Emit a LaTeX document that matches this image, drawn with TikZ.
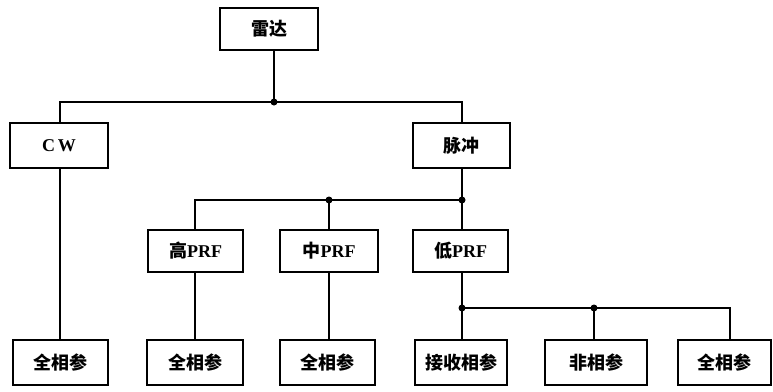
\documentclass[tikz,border=0pt]{standalone}
\usepackage{fontspec}
\setmainfont{Liberation Serif}
\newfontfamily\cjk{Noto Sans CJK SC}
\newcommand{\zh}[1]{{\cjk\bfseries #1}}
\tikzset{
  box/.style={draw, line width=2.2pt, rectangle, inner sep=0pt, minimum height=43pt,
    font=\fontsize{18}{21}\selectfont\bfseries},
  conn/.style={line width=2.4pt},
  jdot/.style={fill, circle, inner sep=0pt, minimum size=7pt}
}
\begin{document}
\begin{tikzpicture}[x=1pt,y=-1pt]
\useasboundingbox (0,0) rectangle (773,391);
% nodes
\node[box, minimum width=98pt, minimum height=42pt] (leida) at (269,29) {\zh{雷达}};
\node[box, minimum width=98pt, minimum height=45pt] (cw) at (59,145.5) {C\,W};
\node[box, minimum width=97pt, minimum height=45pt] (mc) at (461.5,145.5) {\zh{脉冲}};
\node[box, minimum width=95pt, minimum height=42pt] (gao) at (195.5,251) {\zh{高}PRF};
\node[box, minimum width=98pt, minimum height=42pt] (zhong) at (329,251) {\zh{中}PRF};
\node[box, minimum width=95pt, minimum height=42pt] (di) at (460.5,251) {\zh{低}PRF};
\node[box, minimum width=95pt, minimum height=45pt] (b1) at (60.5,362.5) {\zh{全相参}};
\node[box, minimum width=96pt, minimum height=45pt] (b2) at (195,362.5) {\zh{全相参}};
\node[box, minimum width=95pt, minimum height=45pt] (b3) at (327.5,362.5) {\zh{全相参}};
\node[box, minimum width=92pt, minimum height=45pt] (b4) at (461,362.5) {\zh{接收相参}};
\node[box, minimum width=102pt, minimum height=45pt] (b5) at (596,362.5) {\zh{非相参}};
\node[box, minimum width=93pt, minimum height=45pt] (b6) at (724.5,362.5) {\zh{全相参}};
% junctions
\coordinate (j1) at (274,102);
\coordinate (mctop) at (462,102);
\coordinate (j2) at (462,200);
\coordinate (j2m) at (329,200);
\coordinate (j3) at (462,308);
\coordinate (j3m) at (594,308);
\coordinate (j3r) at (730,308);
\coordinate (cwtop) at (60,102);
\coordinate (gtop) at (195,200);
% level 1
\draw[conn] (leida.south -| j1) -- (j1);
\draw[conn] (cw.north -| cwtop) -- (cwtop) -- (j1) -- (mctop) -- (mc.north -| mctop);
% level 2
\draw[conn] (mc.south -| j2) -- (j2);
\draw[conn] (gao.north -| gtop) -- (gtop) -- (j2m) -- (j2);
\draw[conn] (j2m) -- (zhong.north -| j2m);
\draw[conn] (j2) -- (di.north -| j2);
% level 3
\draw[conn] (cw.south -| cwtop) -- (b1.north -| cwtop);
\draw[conn] (gao.south -| gtop) -- (b2.north -| gtop);
\draw[conn] (zhong.south -| j2m) -- (b3.north -| j2m);
\draw[conn] (di.south -| j3) -- (j3) -- (b4.north -| j3);
\draw[conn] (j3) -- (j3m) -- (j3r) -- (b6.north -| j3r);
\draw[conn] (j3m) -- (b5.north -| j3m);
% dots
\node[jdot] at (j1) {};
\node[jdot] at (j2m) {};
\node[jdot] at (j2) {};
\node[jdot] at (j3) {};
\node[jdot] at (j3m) {};
\end{tikzpicture}
\end{document}
